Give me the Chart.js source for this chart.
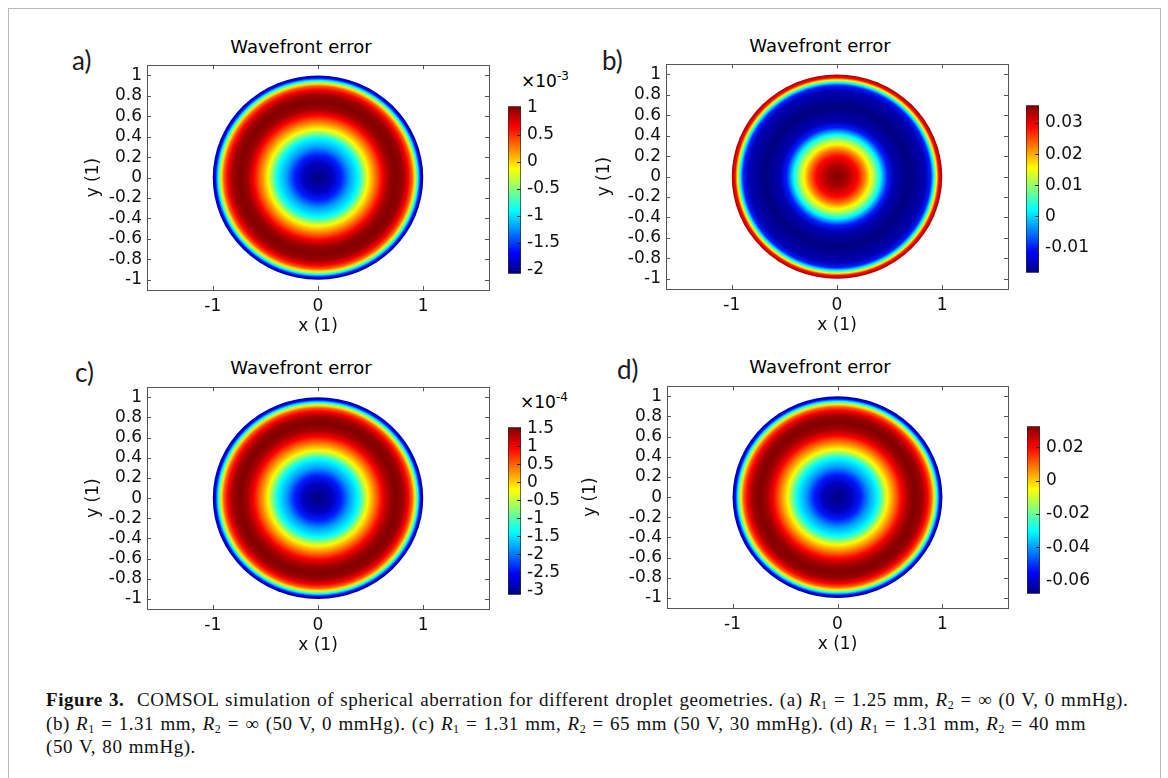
<!DOCTYPE html>
<html>
<head>
<meta charset="utf-8">
<script src="https://cdn.jsdelivr.net/npm/chart.js@4.4.0/dist/chart.umd.min.js"></script>
<style>
    body { margin: 0; background: #fff; width: 1168px; height: 778px; position: relative; overflow: hidden; font-family: "DejaVu Sans", sans-serif; }
    #frame { position: absolute; left: 8px; top: 8px; width: 1151px; height: 800px; border: 1px solid #b8b8b8; }
    canvas { position: absolute; }
    .letter { position: absolute; font-family: Lato, "Open Sans", sans-serif; font-size: 26px; line-height: 26px; color: #1c1c1c; }
    .ptitle { position: absolute; width: 240px; text-align: center; font-size: 18px; line-height: 20px; color: #000; }
    .expo { position: absolute; font-size: 17px; line-height: 20px; color: #000; }
    .expo sup { font-size: 12px; vertical-align: 7px; line-height: 0; }
    #caption { position: absolute; left: 46px; top: 688px; font-family: "Liberation Serif", serif; font-size: 19px; line-height: 23.5px; letter-spacing: 0.55px; word-spacing: 1px; color: #111; white-space: nowrap; }
    #caption sub { font-size: 12px; vertical-align: -3px; line-height: 0; }
</style>
</head>
<body>
<div id="frame"></div>

<div class="letter" style="left:72px;top:47px">a)</div>
<div class="letter" style="left:602px;top:47px">b)</div>
<div class="letter" style="left:75px;top:359px">c)</div>
<div class="letter" style="left:617px;top:356px">d)</div>

<div class="ptitle" style="left:181px;top:37px">Wavefront error</div>
<div class="ptitle" style="left:700px;top:36px">Wavefront error</div>
<div class="ptitle" style="left:181px;top:358px">Wavefront error</div>
<div class="ptitle" style="left:700px;top:357px">Wavefront error</div>

<div class="expo" style="left:521px;top:71px">×10<sup>-3</sup></div>
<div class="expo" style="left:520px;top:392px">×10<sup>-4</sup></div>

<canvas id="mapA" width="452" height="290" style="left:47px;top:50px"></canvas>
<canvas id="mapB" width="452" height="290" style="left:566px;top:49px"></canvas>
<canvas id="mapC" width="452" height="287" style="left:47px;top:372px"></canvas>
<canvas id="mapD" width="451" height="287" style="left:567px;top:371px"></canvas>

<canvas id="barA" width="90" height="200" style="left:500px;top:90px"></canvas>
<canvas id="barB" width="90" height="200" style="left:1018px;top:89px"></canvas>
<canvas id="barC" width="90" height="200" style="left:500px;top:411px"></canvas>
<canvas id="barD" width="90" height="200" style="left:1019px;top:410px"></canvas>

<div id="caption">
<b>Figure 3.</b>&nbsp; COMSOL simulation of spherical aberration for different droplet geometries. (a) <i>R</i><sub>1</sub> = 1.25 mm, <i>R</i><sub>2</sub> = ∞ (0 V, 0 mmHg).<br>
(b) <i>R</i><sub>1</sub> = 1.31 mm, <i>R</i><sub>2</sub> = ∞ (50 V, 0 mmHg). (c) <i>R</i><sub>1</sub> = 1.31 mm, <i>R</i><sub>2</sub> = 65 mm (50 V, 30 mmHg). (d) <i>R</i><sub>1</sub> = 1.31 mm, <i>R</i><sub>2</sub> = 40 mm<br>
(50 V, 80 mmHg).
</div>

<script>
// axis ticks (same for all four panels)
const xTicks = [-1, 0, 1];
const yTicks = [-1, -0.8, -0.6, -0.4, -0.2, 0, 0.2, 0.4, 0.6, 0.8, 1];

// radial profiles, read along the horizontal line through each disc centre
const radiusA = [0, 0.14, 0.22, 0.30, 0.385, 0.43, 0.475, 0.54, 0.61, 0.67, 0.74, 0.81, 0.86, 0.895, 0.915, 0.93, 0.95, 0.975, 1.0];
const wavefrontA = [-2.07, -1.88, -1.6, -1.2, -0.91, -0.52, -0.12, 0.26, 0.66, 0.93, 1.03, 0.94, 0.66, 0.35, -0.02, -0.37, -0.91, -1.7, -2.01];
const rangeA = [-2.07, 1.03];
const barTicksA = [-2, -1.5, -1, -0.5, 0, 0.5, 1];

const radiusB = [0, 0.1, 0.2, 0.265, 0.315, 0.35, 0.41, 0.48, 0.54, 0.68, 0.84, 0.89, 0.92, 0.946, 0.968, 1.0];
const wavefrontB = [0.0357, 0.0335, 0.0287, 0.0223, 0.0158, 0.0115, 0.0021, -0.0100, -0.0154, -0.0181, -0.0154, -0.0100, 0.0021, 0.0158, 0.0287, 0.0341];
const rangeB = [-0.0181, 0.0357];
const barTicksB = [-0.01, 0, 0.01, 0.02, 0.03];

const radiusC = [0, 0.14, 0.22, 0.30, 0.385, 0.43, 0.475, 0.54, 0.61, 0.67, 0.74, 0.81, 0.86, 0.895, 0.915, 0.93, 0.95, 0.975, 1.0];
const wavefrontC = [-3.13, -2.85, -2.43, -1.83, -1.38, -0.80, -0.19, 0.37, 0.97, 1.34, 1.53, 1.39, 0.97, 0.50, -0.05, -0.57, -1.38, -2.57, -3.04];
const rangeC = [-3.13, 1.525];
const barTicksC = [-3, -2.5, -2, -1.5, -1, -0.5, 0, 0.5, 1, 1.5];

const radiusD = [0, 0.14, 0.22, 0.30, 0.385, 0.43, 0.475, 0.54, 0.61, 0.67, 0.74, 0.81, 0.86, 0.895, 0.915, 0.93, 0.95, 0.975, 1.0];
const wavefrontD = [-0.068, -0.062, -0.053, -0.040, -0.030, -0.018, -0.0046, 0.0075, 0.0206, 0.0287, 0.0327, 0.0297, 0.0206, 0.0105, -0.0015, -0.0126, -0.030, -0.056, -0.066];
const rangeD = [-0.068, 0.0327];
const barTicksD = [-0.06, -0.04, -0.02, 0, 0.02];

const FONT = { family: 'DejaVu Sans', size: 17 };

// rainbow colour map (jet)
function jet(t) {
    t = Math.max(0, Math.min(1, t));
    const c = v => Math.round(255 * Math.max(0, Math.min(1, v)));
    return `rgb(${c(1.5 - Math.abs(4 * t - 3))},${c(1.5 - Math.abs(4 * t - 2))},${c(1.5 - Math.abs(4 * t - 1))})`;
}

// fills the unit disc with a radial gradient built from the profile points
const discPlugin = {
    id: 'disc',
    beforeDatasetsDraw(chart) {
        const ds = chart.data.datasets[0];
        const xs = chart.scales.x, ys = chart.scales.y;
        const ctx = chart.ctx;
        const cx = xs.getPixelForValue(0), cy = ys.getPixelForValue(0);
        const rx = xs.getPixelForValue(1) - cx;
        const ry = cy - ys.getPixelForValue(1);
        const [lo, hi] = ds.colorRange;
        ctx.save();
        ctx.translate(cx, cy);
        ctx.scale(1, ry / rx);
        const g = ctx.createRadialGradient(0, 0, 0, 0, 0, rx);
        ds.data.forEach(p => g.addColorStop(p.x, jet((p.v - lo) / (hi - lo))));
        ctx.fillStyle = g;
        ctx.beginPath();
        ctx.arc(0, 0, rx, 0, Math.PI * 2);
        ctx.fill();
        ctx.restore();
    },
    // frame with inward tick marks, COMSOL style
    afterDraw(chart) {
        const { ctx, chartArea: a } = chart;
        const xs = chart.scales.x, ys = chart.scales.y;
        ctx.save();
        ctx.strokeStyle = '#555';
        ctx.lineWidth = 1;
        ctx.strokeRect(Math.round(a.left) + 0.5, Math.round(a.top) + 0.5, Math.round(a.right - a.left), Math.round(a.bottom - a.top));
        ctx.beginPath();
        xTicks.forEach(v => {
            const px = Math.round(xs.getPixelForValue(v)) + 0.5;
            ctx.moveTo(px, a.bottom); ctx.lineTo(px, a.bottom - 4);
            ctx.moveTo(px, a.top); ctx.lineTo(px, a.top + 4);
        });
        yTicks.forEach(v => {
            const py = Math.round(ys.getPixelForValue(v)) + 0.5;
            ctx.moveTo(a.left, py); ctx.lineTo(a.left + 4, py);
            ctx.moveTo(a.right, py); ctx.lineTo(a.right - 4, py);
        });
        ctx.stroke();
        ctx.restore();
    }
};

function makeMap(id, radius, values, range, yTitlePad) {
    new Chart(document.getElementById(id), {
        type: 'scatter',
        data: {
            datasets: [{
                data: radius.map((r, i) => ({ x: r, y: 0, v: values[i] })),
                colorRange: range,
                pointRadius: 0,
                showLine: false
            }]
        },
        options: {
            responsive: false,
            animation: false,
            events: [],
            layout: { padding: { left: 0, right: 10, top: 10, bottom: 0 } },
            plugins: { legend: { display: false }, tooltip: { enabled: false } },
            scales: {
                x: {
                    type: 'linear', min: -1.625, max: 1.625,
                    afterBuildTicks: s => { s.ticks = xTicks.map(v => ({ value: v })); },
                    afterFit: s => { s.height = 50; },
                    grid: { display: false, drawTicks: false }, border: { display: false },
                    ticks: { autoSkip: false, maxRotation: 0, padding: 6, color: '#111', font: FONT, callback: v => String(v) },
                    title: { display: true, text: 'x (1)', color: '#111', font: FONT, padding: { top: 0, bottom: 3 } }
                },
                y: {
                    type: 'linear', min: -1.1, max: 1.1,
                    afterBuildTicks: s => { s.ticks = yTicks.map(v => ({ value: v })); },
                    afterFit: s => { s.width = 100; },
                    grid: { display: false, drawTicks: false }, border: { display: false },
                    ticks: { autoSkip: false, padding: 5, color: '#111', font: FONT, callback: v => String(v) },
                    title: { display: true, text: 'y (1)', color: '#111', font: FONT, padding: { top: yTitlePad, bottom: 0 } }
                }
            }
        },
        plugins: [discPlugin]
    });
}

// colour legend: one floating bar from min to max, filled with the colour map
const barPlugin = {
    id: 'barTicks',
    afterDraw(chart) {
        const { ctx, chartArea: a } = chart;
        const ys = chart.scales.y;
        ctx.save();
        ctx.strokeStyle = '#222';
        ctx.beginPath();
        ys.ticks.forEach(t => {
            const py = Math.round(ys.getPixelForValue(t.value)) + 0.5;
            ctx.moveTo(a.right - 4, py); ctx.lineTo(a.right, py);
        });
        ctx.stroke();
        ctx.restore();
    }
};

function makeBar(id, range, ticks, pad) {
    new Chart(document.getElementById(id), {
        type: 'bar',
        data: {
            labels: [''],
            datasets: [{
                data: [range],
                backgroundColor: (c) => {
                    const a = c.chart.chartArea;
                    if (!a) return '#888';
                    const g = c.chart.ctx.createLinearGradient(0, a.bottom, 0, a.top);
                    [0, 0.125, 0.375, 0.625, 0.875, 1].forEach(t => g.addColorStop(t, jet(t)));
                    return g;
                },
                borderColor: '#2a2a2a',
                borderWidth: 1,
                borderSkipped: false,
                barPercentage: 1,
                categoryPercentage: 1
            }]
        },
        options: {
            responsive: false,
            animation: false,
            events: [],
            layout: { padding: pad },
            plugins: { legend: { display: false }, tooltip: { enabled: false } },
            scales: {
                x: { display: false },
                y: {
                    position: 'right', min: range[0], max: range[1],
                    afterBuildTicks: s => { s.ticks = ticks.map(v => ({ value: v })); },
                    afterFit: s => { s.width = 90 - pad.left - 13; },
                    grid: { display: false, drawTicks: false }, border: { display: false },
                    ticks: { autoSkip: false, padding: 6, color: '#111', font: FONT, callback: v => String(v) }
                }
            }
        },
        plugins: [barPlugin]
    });
}

makeMap('mapA', radiusA, wavefrontA, rangeA, 36.5);
makeMap('mapB', radiusB, wavefrontB, rangeB, 28.8);
makeMap('mapC', radiusC, wavefrontC, rangeC, 36.8);
makeMap('mapD', radiusD, wavefrontD, rangeD, 13.1);

makeBar('barA', rangeA, barTicksA, { left: 8, top: 8, bottom: 8, right: 0 });
makeBar('barB', rangeB, barTicksB, { left: 8, top: 8, bottom: 8, right: 0 });
makeBar('barC', rangeC, barTicksC, { left: 8, top: 9, bottom: 9, right: 0 });
makeBar('barD', rangeD, barTicksD, { left: 8, top: 9, bottom: 9, right: 0 });
</script>
</body>
</html>
